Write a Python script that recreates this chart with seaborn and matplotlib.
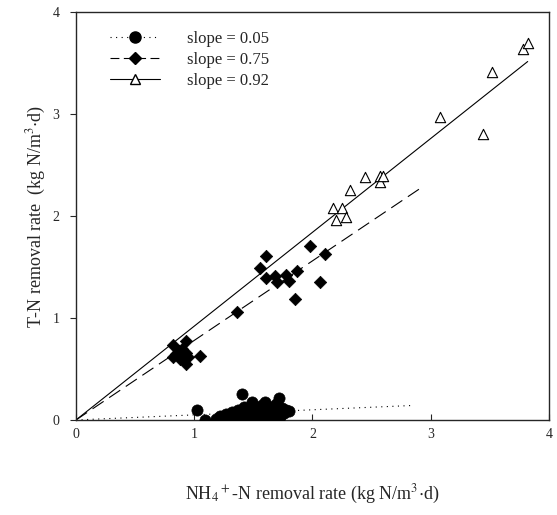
import numpy as np
import pandas as pd
import seaborn as sns
import matplotlib.pyplot as plt
from matplotlib.lines import Line2D

# circles (slope = 0.05)
circ_x = [1.02, 1.09, 1.18, 1.22, 1.25, 1.27, 1.30, 1.32, 1.33, 1.35, 1.37, 1.38, 1.40, 1.41,
          1.42, 1.44, 1.45, 1.47, 1.49, 1.50, 1.52, 1.53, 1.55, 1.57, 1.58, 1.60, 1.61, 1.63,
          1.64, 1.66, 1.67, 1.69, 1.70, 1.72, 1.73, 1.74, 1.76, 1.78, 1.80, 1.72]
circ_y = [0.10, 0.00, 0.01, 0.04, 0.02, 0.06, 0.03, 0.08, 0.00, 0.05, 0.10, 0.02, 0.25, 0.06,
          0.13, 0.03, 0.09, 0.00, 0.18, 0.06, 0.12, 0.02, 0.08, 0.15, 0.04, 0.18, 0.10, 0.01,
          0.07, 0.13, 0.03, 0.16, 0.09, 0.22, 0.05, 0.12, 0.07, 0.10, 0.09, 0.00]

# diamonds (slope = 0.75)
diam_x = [0.82, 0.82, 0.85, 0.87, 0.88, 0.90, 0.90, 0.93, 0.93, 0.93, 0.95, 1.05, 1.36,
          1.56, 1.61, 1.61, 1.68, 1.70, 1.78, 1.80, 1.85, 1.87, 1.98, 2.06, 2.11]
diam_y = [0.74, 0.62, 0.65, 0.68, 0.60, 0.70, 0.63, 0.77, 0.66, 0.55, 0.62, 0.63, 1.06,
          1.49, 1.61, 1.39, 1.41, 1.35, 1.42, 1.36, 1.19, 1.46, 1.71, 1.35, 1.63]

# triangles (slope = 0.92)
tri_x = [2.17, 2.20, 2.25, 2.28, 2.32, 2.44, 2.57, 2.57, 2.60, 3.08, 3.44, 3.52, 3.78, 3.82]
tri_y = [2.08, 1.96, 2.08, 1.99, 2.25, 2.38, 2.39, 2.33, 2.39, 2.97, 2.80, 3.41, 3.64, 3.70]

# regression lines through origin
slopes = [0.05, 0.78, 0.92]
line_end = [2.85, 2.93, 3.82]
labels = ['slope = 0.05', 'slope = 0.75', 'slope = 0.92']

sns.set_style('ticks')
plt.rcParams['font.family'] = ['Liberation Serif', 'DejaVu Serif']
plt.rcParams['mathtext.fontset'] = 'stix'

fig = plt.figure(figsize=(5.57, 5.15), dpi=100)
ax = fig.add_axes([0.1364, 0.1845, 0.8492, 0.7922])

styles = [(0, (1, 4)), (0, (12, 6)), '-']
for s, e, ls in zip(slopes, line_end, styles):
    lx = np.array([0, e])
    ax.plot(lx, s * lx, color='black', lw=0.8, linestyle=ls)

sns.scatterplot(x=circ_x, y=circ_y, ax=ax, marker='o', s=65, color='black',
                edgecolor='black', linewidth=0.5, zorder=3)
sns.scatterplot(x=diam_x, y=diam_y, ax=ax, marker='D', s=40, color='black',
                edgecolor='black', linewidth=0.5, zorder=3)
sns.scatterplot(x=tri_x, y=tri_y, ax=ax, marker='^', s=55, facecolor='white',
                edgecolor='black', linewidth=0.8, zorder=3)

ax.set_xlim(0, 4)
ax.set_ylim(0, 4)
ax.set_xticks([0, 1, 2, 3, 4])
ax.set_yticks([0, 1, 2, 3, 4])
ax.tick_params(axis='x', direction='in', labelsize=10, pad=6, length=4)
ax.tick_params(axis='y', direction='out', labelsize=10, pad=8, length=4)
for sp in ax.spines.values():
    sp.set_linewidth(1.0)

ax.set_xlabel(r'NH$_4$$^+$-N removal rate (kg N/m$^3$$\cdot$d)', fontsize=13, labelpad=30)
ax.set_ylabel(r'T-N removal rate  (kg N/m$^3$$\cdot$d)', fontsize=13, labelpad=3)

handles = [
    Line2D([], [], color='black', lw=0.8, linestyle=(0, (1, 4)), marker='o', markersize=8),
    Line2D([], [], color='black', lw=0.8, linestyle=(0, (8, 4)), marker='D', markersize=6),
    Line2D([], [], color='black', lw=0.8, linestyle='-', marker='^', markersize=7,
           markerfacecolor='white'),
]
ax.legend(handles, labels, loc='upper left', frameon=False, fontsize=12,
          handlelength=3.0, labelspacing=0.3, handletextpad=1.6,
          bbox_to_anchor=(0.04, 0.99))

fig.savefig('out.png', dpi=100)
